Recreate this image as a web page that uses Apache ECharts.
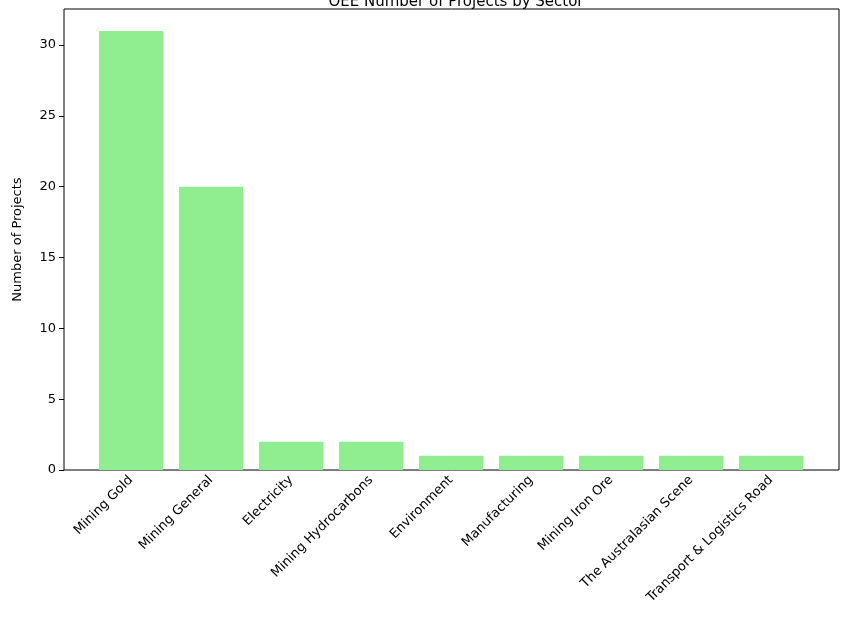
<!DOCTYPE html>
<html><head><meta charset="utf-8">
<script src="https://cdn.jsdelivr.net/npm/echarts@6/dist/echarts.min.js"></script>
</head><body style="margin:0">
<div id="main" style="width:849px;height:623px"></div>
<script>
var sectors = ['Mining Gold', 'Mining General', 'Electricity', 'Mining Hydrocarbons', 'Environment',
    'Manufacturing', 'Mining Iron Ore', 'The Australasian Scene', 'Transport & Logistics Road'];
var projects = [31, 20, 2, 2, 1, 1, 1, 1, 1];

var myChart = echarts.init(document.getElementById('main'));
var font = 'DejaVu Sans';
var option = {
    animation: false,
    textStyle: {fontFamily: font},
    title: {
        text: 'OEE Number of Projects by Sector',
        left: 451, top: -10, textAlign: 'center',
        textStyle: {fontSize: 15, fontWeight: 'normal', color: '#000', fontFamily: font}
    },
    grid: [
        {left: 64, top: 9, width: 775, height: 461, show: true, borderColor: '#000', borderWidth: 1},
        {left: 91, top: 9, width: 720, height: 461}
    ],
    xAxis: [
        {gridIndex: 0, type: 'value', show: false},
        {
            gridIndex: 1, type: 'category', data: sectors,
            axisLine: {show: false},
            axisTick: {alignWithLabel: true, lineStyle: {color: '#000'}},
            axisLabel: {rotate: 45, interval: 0, color: '#000', fontSize: 13, fontFamily: font}
        }
    ],
    yAxis: [
        {gridIndex: 0, type: 'value', show: false},
        {
            gridIndex: 1, type: 'value', min: 0, max: 32.55, interval: 5,
            name: 'Number of Projects', nameLocation: 'middle', nameGap: 40,
            nameTextStyle: {color: '#000', fontSize: 13},
            offset: 27,
            axisLine: {show: false},
            axisTick: {show: true, lineStyle: {color: '#000'}},
            splitLine: {show: false},
            axisLabel: {color: '#000', fontSize: 13, showMaxLabel: false}
        }
    ],
    series: [{
        type: 'bar', xAxisIndex: 1, yAxisIndex: 1,
        data: projects, barWidth: 64,
        itemStyle: {color: '#90ee90'}
    }]
};
myChart.setOption(option);
</script>
</body></html>
